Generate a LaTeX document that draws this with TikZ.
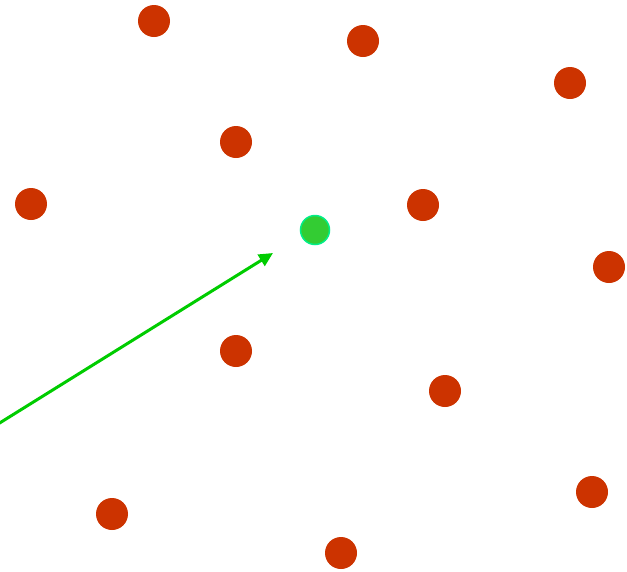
\documentclass[tikz,border=0pt]{standalone}
\usetikzlibrary{arrows.meta}
\definecolor{dotred}{HTML}{CC3300}
\definecolor{dotgreen}{HTML}{33CC33}
\definecolor{ringgreen}{HTML}{00EE88}
\definecolor{arrowgreen}{HTML}{00CC00}
\tikzset{
  reddot/.style={circle, fill=dotred, minimum size=32pt, inner sep=0pt},
  greendot/.style={circle, fill=dotgreen, draw=ringgreen, line width=1.5pt, minimum size=29pt, inner sep=0pt},
  vec/.style={draw=arrowgreen, line width=3pt, -{Triangle[length=14pt,width=13pt]}}
}
\begin{document}
\begin{tikzpicture}[x=1pt,y=-1pt]
\useasboundingbox (0,0) rectangle (627,571);
\node[reddot] (d1) at (154,21) {};
\node[reddot] (d2) at (363,41) {};
\node[reddot] (d3) at (570,83) {};
\node[reddot] (d4) at (236,142) {};
\node[reddot] (d5) at (31,204) {};
\node[reddot] (d6) at (423,205) {};
\node[reddot] (d7) at (609,267) {};
\node[reddot] (d8) at (236,351) {};
\node[reddot] (d9) at (445,391) {};
\node[reddot] (d10) at (112,514) {};
\node[reddot] (d11) at (592,492) {};
\node[reddot] (d12) at (341,553) {};
\node[greendot] (g) at (315,230) {};
\coordinate (s) at (-2,424);
\coordinate (t) at (273,253);
\draw[vec] (s) -- (t);
\end{tikzpicture}
\end{document}
